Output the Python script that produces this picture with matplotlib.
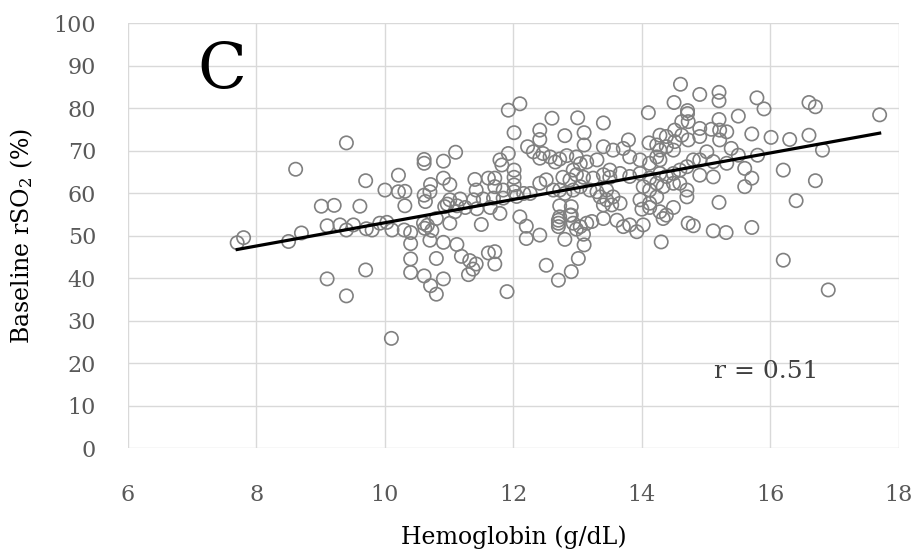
import numpy as np
import matplotlib
matplotlib.use("Agg")
import matplotlib.pyplot as plt

plt.rcParams["font.family"] = ["DejaVu Serif"]
plt.rcParams["mathtext.fontset"] = "dejavuserif"

# hemoglobin (g/dL) vs baseline rSO2 (%)
pts_low = [
    (7.70, 48.3), (7.80, 49.5), (8.50, 48.6), (8.70, 50.6), (8.61, 65.6),
    (9.01, 56.9), (9.21, 57.1), (9.61, 56.9), (9.40, 71.8), (9.70, 62.9),
    (9.10, 52.3), (9.30, 52.5), (9.40, 51.3), (9.51, 52.5), (9.71, 51.6),
    (9.80, 51.3), (9.92, 52.9), (10.03, 53.1), (10.11, 51.3),
    (9.10, 39.8), (9.40, 35.8), (9.70, 41.9), (10.10, 25.8),
    (10.21, 64.2), (10.00, 60.7), (10.21, 60.3), (10.31, 60.4), (10.31, 57.0),
    (10.61, 67.9), (10.61, 67.0), (10.71, 62.0), (10.70, 60.3), (10.61, 59.5),
    (10.63, 58.0), (10.30, 51.3), (10.40, 50.7),
    (10.40, 48.1), (10.40, 44.5), (10.40, 41.3), (10.61, 40.5), (10.71, 38.2),
    (10.80, 36.2), (10.80, 44.6), (10.91, 39.8),
    (10.60, 52.9), (10.62, 51.7), (10.66, 52.4), (10.73, 51.2), (10.80, 54.0),
    (10.70, 48.9), (10.91, 48.4), (10.91, 67.5), (10.91, 63.5), (11.01, 62.0),
    (10.93, 56.8), (11.09, 55.6), (11.01, 52.9),
]
pts_mid = [
    (11.10, 69.6), (11.92, 79.5), (12.10, 81.0), (12.01, 74.2), (12.60, 77.6),
    (13.00, 77.7), (13.40, 76.5), (14.10, 78.9), (12.41, 74.8), (12.41, 72.6),
    (12.80, 73.5), (13.10, 74.2), (13.10, 71.3), (13.79, 72.5), (14.11, 71.8),
    (14.23, 71.3), (12.22, 70.9), (12.31, 69.7), (12.41, 68.2),
    (11.79, 67.8), (11.92, 69.3), (11.82, 66.6),
    (12.01, 65.4), (12.01, 63.7), (12.01, 61.9), (12.01, 60.3),
    (11.71, 63.5), (11.61, 63.5), (11.40, 63.2), (11.42, 60.7), (11.71, 61.5),
    (11.84, 60.7), (11.01, 58.4), (11.17, 58.6), (11.38, 58.4), (11.53, 58.6),
    (11.69, 58.8), (11.84, 58.8), (12.05, 59.2), (12.16, 59.9), (12.26, 59.9),
    (10.97, 57.4), (11.12, 57.0), (11.25, 56.6), (11.43, 56.3), (11.64, 56.6),
    (12.41, 62.3), (12.51, 63.1), (12.62, 60.7),
    (12.46, 69.3), (12.57, 68.5), (12.65, 67.3), (12.72, 68.0), (12.83, 68.8),
    (12.98, 68.5), (13.04, 66.9), (12.93, 65.4), (13.14, 67.3), (13.30, 67.8),
    (12.77, 63.7), (12.88, 63.1), (12.98, 64.3), (13.09, 63.7), (13.24, 63.5),
    (13.40, 64.3), (13.50, 63.7),
    (12.72, 60.7), (12.80, 59.9), (12.93, 60.7), (13.04, 61.5), (13.19, 60.7),
    (13.30, 60.3), (13.45, 60.7), (13.35, 59.1), (13.45, 58.4), (13.55, 59.1),
    (13.66, 57.6), (12.72, 57.0), (12.90, 56.8),
    (13.40, 70.9), (13.55, 70.1), (13.71, 70.5), (13.81, 68.5), (13.97, 67.8),
    (14.12, 67.0), (14.23, 68.5),
    (13.50, 65.4), (13.66, 64.6), (13.81, 63.9), (13.97, 64.6), (14.12, 63.5),
    (14.23, 62.3), (14.02, 61.5), (14.12, 60.7),
    (13.97, 58.4), (14.12, 57.6), (14.23, 59.1), (14.00, 56.2), (14.12, 56.6),
    (11.50, 52.6), (11.79, 55.2), (12.10, 54.4), (12.20, 52.2), (12.20, 49.3),
    (12.41, 50.1), (11.12, 47.9), (11.19, 45.1), (11.32, 44.1), (11.42, 43.3),
    (11.37, 42.1), (11.30, 40.8), (11.61, 45.9), (11.71, 46.2), (11.71, 43.3),
    (11.90, 36.8), (12.51, 43.0), (12.70, 39.5), (12.90, 41.5), (13.01, 44.6),
    (13.10, 47.8), (13.14, 52.9), (13.22, 53.3),
    (12.70, 53.6), (12.70, 52.9), (12.70, 52.1), (12.72, 54.4), (12.80, 49.1),
    (12.88, 54.8), (12.93, 52.9), (12.98, 51.5), (13.04, 52.1), (13.09, 50.3),
    (12.90, 54.8), (13.40, 54.0), (13.40, 57.2), (13.53, 57.2), (13.61, 53.6),
    (13.71, 52.1), (13.81, 52.5), (13.92, 50.9), (14.02, 52.5),
]
pts_high = [
    (14.60, 85.6), (14.50, 81.3), (14.90, 83.2), (15.20, 83.7), (15.20, 81.7),
    (15.79, 82.4), (15.90, 79.8), (16.60, 81.3), (16.70, 80.3), (17.70, 78.4),
    (14.71, 79.4), (14.71, 78.7), (15.50, 78.1),
    (14.62, 76.8), (14.72, 76.8), (14.51, 74.8), (14.62, 73.6), (14.72, 72.5),
    (14.51, 72.1), (14.38, 73.3), (14.28, 73.6),
    (15.20, 77.3), (15.08, 75.0), (15.21, 74.8), (15.32, 74.4), (14.90, 75.2),
    (14.90, 73.3), (15.21, 72.5),
    (15.71, 73.9), (16.01, 73.1), (16.30, 72.6), (16.60, 73.6), (16.81, 70.1),
    (16.20, 65.4), (16.70, 62.9), (16.40, 58.2), (15.20, 57.8),
    (15.80, 68.9), (15.60, 65.8), (15.71, 63.5), (15.60, 61.5),
    (15.39, 70.5), (15.50, 68.9), (15.32, 67.0), (15.11, 67.4), (14.90, 64.2),
    (15.11, 63.8), (15.01, 69.7), (14.90, 67.8), (14.80, 67.8), (14.70, 66.2),
    (14.59, 65.4), (14.49, 64.6), (14.38, 63.9), (14.28, 64.6),
    (14.28, 67.8), (14.28, 70.1), (14.38, 70.9), (14.49, 70.1),
    (14.70, 60.7), (14.70, 59.1), (14.49, 56.6), (14.28, 55.6),
    (14.33, 61.5), (14.49, 62.3), (14.59, 62.3),
    (14.72, 52.9), (14.80, 52.3), (15.11, 51.1), (15.31, 50.7), (15.71, 51.9),
    (16.20, 44.2), (16.90, 37.2), (14.30, 48.5), (14.38, 54.8), (14.33, 54.0),
]

pts = np.array(pts_low + pts_mid + pts_high)
hb = pts[:, 0]
rso2 = pts[:, 1]

x_ticks = [6, 8, 10, 12, 14, 16, 18]
y_ticks = list(range(0, 101, 10))
r_text = "r = 0.51"

fig = plt.figure(figsize=(9.14, 5.54), dpi=100)
ax = fig.add_axes([0.1400, 0.1913, 0.8435, 0.7671])

ax.scatter(hb, rso2, s=92, facecolors="none", edgecolors="#808080",
           linewidths=1.2, zorder=3)

# least-squares trend line over the data range
k, b = np.polyfit(hb, rso2, 1)
xl = np.array([hb.min(), hb.max()])
ax.plot(xl, k * xl + b, color="black", lw=2.3, zorder=4)

ax.set_xlim(6, 18)
ax.set_ylim(0, 100)
ax.set_xticks(x_ticks)
ax.set_yticks(y_ticks)
ax.grid(True, color="#d9d9d9", lw=1.0, zorder=0)
ax.set_axisbelow(True)
for s in ax.spines.values():
    s.set_visible(False)
ax.tick_params(length=0, labelsize=16, labelcolor="#595959")
ax.tick_params(axis="x", pad=26)
ax.tick_params(axis="y", pad=23)

ax.set_xlabel("Hemoglobin (g/dL)", fontsize=17, labelpad=14)
ax.set_ylabel("Baseline rSO$_2$ (%)", fontsize=17, labelpad=13)

ax.text(7.46, 88.7, "C", fontsize=46, ha="center", va="center")
ax.text(15.93, 18.1, r_text, fontsize=18, color="#404040",
        ha="center", va="center")

fig.savefig("out.png", dpi=100)
